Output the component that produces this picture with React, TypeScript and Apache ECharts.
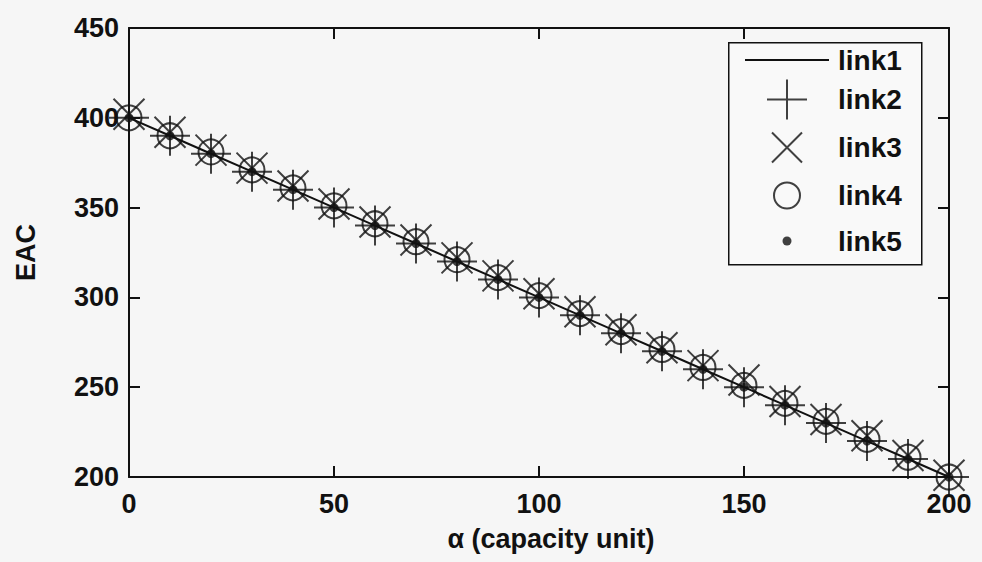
import React, { useEffect, useRef } from "react";
import * as echarts from "echarts";

const xValues = [0, 10, 20, 30, 40, 50, 60, 70, 80, 90, 100, 110, 120, 130, 140, 150, 160, 170, 180, 190, 200];
const link1 = [400, 390, 380, 370, 360, 350, 340, 330, 320, 310, 300, 290, 280, 270, 260, 250, 240, 230, 220, 210, 200];
const link2 = [400, 390, 380, 370, 360, 350, 340, 330, 320, 310, 300, 290, 280, 270, 260, 250, 240, 230, 220, 210, 200];
const link3 = [402, 392, 382, 372, 362, 352, 342, 332, 322, 312, 302, 292, 282, 272, 262, 254, 242, 232, 223, 212, 201];
const link4 = [400, 390, 381, 371, 361, 351, 341, 331, 321, 311, 301, 291, 281, 271, 261, 251, 241, 231, 221, 211, 200];
const link5 = [400, 390, 380, 370, 360, 350, 340, 330, 320, 310, 300, 290, 280, 270, 260, 250, 240, 230, 220, 210, 200];
const seriesNames = ["link1", "link2", "link3", "link4", "link5"];
const xTicks = { min: 0, max: 200, interval: 50 };
const yTicks = { min: 200, max: 450, interval: 50 };
const xTitle = "α (capacity unit)";
const yTitle = "EAC";

const INK = "#111111";
const FONT = "'Liberation Sans', Arial, sans-serif";

// marker shapes (plot)
const PLUS = "path://M0,20 L40,20 M20,0 L20,40";
const CROSS = "path://M0,0 L30,30 M30,0 L0,30";
// legend icons, drawn inside a 40x40 box so their relative sizes are kept
const ICON_LINE = "path://M0,0 L84,0 L84,2 L0,2 Z";
const ICON_PLUS = "path://M0,20 L40,20 M20,0 L20,40";
const ICON_CROSS = "path://M0,0 M40,40 M5,5 L35,35 M35,5 L5,35";
const ICON_CIRCLE = "path://M0,0 M40,40 M33,20 A13,13 0 1,1 7,20 A13,13 0 1,1 33,20 Z";
const ICON_DOT = "path://M0,0 M40,40 M24.5,20 A4.5,4.5 0 1,1 15.5,20 A4.5,4.5 0 1,1 24.5,20 Z";

const pairs = (ys: number[]) => xValues.map((x, i) => [x, ys[i]]);

export default function App() {
  const ref = useRef<HTMLDivElement>(null);
  useEffect(() => {
    document.body.style.margin = "0";
    const chart = echarts.init(ref.current!, null, { renderer: "svg" });
    const axisCommon = {
      axisLine: { show: true, onZero: false, lineStyle: { color: INK, width: 2 } },
      axisTick: { show: true, inside: true, length: 11, lineStyle: { color: INK, width: 2 } },
      splitLine: { show: false },
    };
    const labelStyle = { color: INK, fontFamily: FONT, fontWeight: "bold" as const, fontSize: 27 };
    const stroke = { color: "none", borderColor: INK, borderWidth: 2 };
    chart.setOption({
      animation: false,
      backgroundColor: "#f6f6f6",
      grid: { left: 129, right: 33, top: 28, bottom: 85, containLabel: false },
      graphic: [
        {
          type: "rect", left: 728, top: 42, z: 5,
          shape: { width: 193, height: 222 },
          style: { fill: "#f9f9f9", stroke: INK, lineWidth: 1.5 },
        },
      ],
      xAxis: [
        {
          type: "value", position: "bottom", ...xTicks, ...axisCommon,
          axisLabel: { ...labelStyle, margin: 13 },
          name: xTitle, nameLocation: "middle", nameGap: 48,
          nameTextStyle: { ...labelStyle, padding: [0, 0, 0, 24] },
        },
        {
          type: "value", position: "top", ...xTicks, ...axisCommon,
          axisLabel: { show: false },
        },
      ],
      yAxis: [
        {
          type: "value", position: "left", ...yTicks, ...axisCommon,
          axisLabel: { ...labelStyle, margin: 10 },
          name: yTitle, nameLocation: "middle", nameGap: 90, nameRotate: 90,
          nameTextStyle: { ...labelStyle },
        },
        {
          type: "value", position: "right", ...yTicks, ...axisCommon,
          axisLabel: { show: false },
        },
      ],
      legend: {
        orient: "vertical",
        left: 728,
        top: 42,
        z: 6,
        padding: [4, 4, 6, 17],
        itemWidth: 84,
        itemHeight: 40,
        itemGap: 3,
        borderWidth: 0,
        backgroundColor: "transparent",
        textStyle: { color: INK, fontFamily: FONT, fontWeight: "bold", fontSize: 28, padding: [0, 0, 0, 4] },
        data: [
          { name: seriesNames[0], icon: ICON_LINE, itemStyle: { color: INK, borderWidth: 0 } },
          { name: seriesNames[1], icon: ICON_PLUS },
          { name: seriesNames[2], icon: ICON_CROSS },
          { name: seriesNames[3], icon: ICON_CIRCLE },
          { name: seriesNames[4], icon: ICON_DOT },
        ],
      },
      series: [
        {
          name: seriesNames[0], type: "line", data: pairs(link1), symbol: "none",
          lineStyle: { color: INK, width: 2 }, itemStyle: { color: INK }, z: 2,
        },
        {
          name: seriesNames[1], type: "scatter", data: pairs(link2),
          symbol: PLUS, symbolSize: 40, itemStyle: stroke, z: 3,
        },
        {
          name: seriesNames[2], type: "scatter", data: pairs(link3),
          symbol: CROSS, symbolSize: 31, itemStyle: stroke, z: 3,
        },
        {
          name: seriesNames[3], type: "scatter", data: pairs(link4),
          symbol: "circle", symbolSize: 25, itemStyle: stroke, z: 3,
        },
        {
          name: seriesNames[4], type: "scatter", data: pairs(link5),
          symbol: "circle", symbolSize: 9, itemStyle: { color: INK }, z: 4,
        },
      ],
    });
    return () => chart.dispose();
  }, []);
  return <div ref={ref} style={{ width: 982, height: 562, position: "absolute", left: 0, top: 0 }} />;
}
